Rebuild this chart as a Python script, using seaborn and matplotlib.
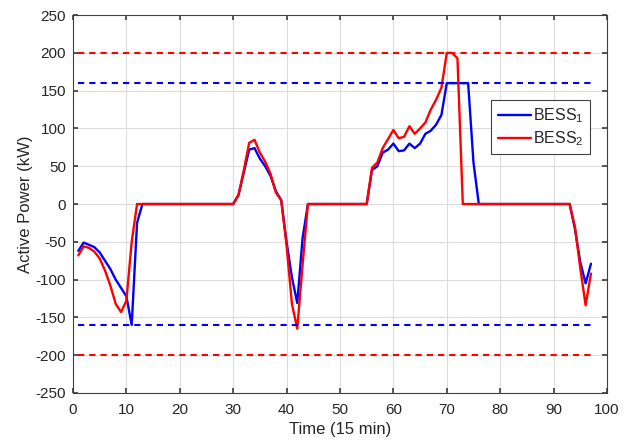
import matplotlib
matplotlib.use("Agg")
import matplotlib.pyplot as plt
import seaborn as sns
import pandas as pd
from matplotlib.lines import Line2D

time = list(range(1, 98))
bess1 = ([-62, -51, -54, -57, -64, -75, -86, -100, -111, -122, -160, -25]
         + [0] * 18
         + [12, 42, 72, 74, 60, 50, 37, 17, 5, -50, -97, -131, -45]
         + [0] * 12
         + [45, 50, 68, 72, 80, 70, 71, 80, 74, 80, 93, 97, 105, 118]
         + [160] * 5
         + [55]
         + [0] * 18
         + [-33, -77, -105, -79])
bess2 = ([-68, -56, -58, -63, -72, -88, -108, -132, -143, -128, -50]
         + [0] * 19
         + [12, 45, 81, 85, 68, 56, 40, 15, 5, -55, -132, -165, -80]
         + [0] * 12
         + [48, 55, 74, 86, 98, 87, 89, 103, 93, 100, 108, 125, 138, 154, 200, 200, 193]
         + [0] * 21
         + [-30, -85, -134, -92])
limit1 = 160
limit2 = 200
labels = ["BESS$_1$", "BESS$_2$"]
colors = ["#0000FF", "#FF0000"]

df = pd.DataFrame({
    "t": time * 2,
    "p": bess1 + bess2,
    "s": [labels[0]] * len(time) + [labels[1]] * len(time),
})

sns.set_theme(style="whitegrid")
plt.rcParams["font.family"] = ["Liberation Sans", "DejaVu Sans"]
plt.rcParams["mathtext.default"] = "regular"
plt.rcParams["axes.unicode_minus"] = False

fig = plt.figure(figsize=(6.29, 4.45), dpi=100)
ax = fig.add_axes([0.116, 0.117, 0.849, 0.849])

sns.lineplot(data=df, x="t", y="p", hue="s", palette=colors, linewidth=1.7,
             ax=ax, legend=False, estimator=None)

tmin, tmax = time[0], time[-1]
for lim, c in [(limit2, colors[1]), (limit1, colors[0])]:
    for sgn in (1, -1):
        ax.plot([tmin, tmax], [sgn * lim, sgn * lim], color=c, linestyle=(0, (3.0, 2.4)), linewidth=1.5)

ax.set_xlim(0, 100)
ax.set_ylim(-250, 250)
ax.set_xticks(range(0, 101, 10))
ax.set_yticks(range(-250, 251, 50))
ax.set_facecolor("white")
ax.grid(True, color="#dcdcdc", linewidth=0.8)
for sp in ax.spines.values():
    sp.set_visible(True)
    sp.set_color("#404040")
    sp.set_linewidth(0.8)
ax.tick_params(axis="both", direction="in", length=3.5, color="#404040",
               labelsize=11, labelcolor="#262626", top=True, right=True,
               bottom=True, left=True)
ax.tick_params(axis="x", pad=7)
ax.tick_params(axis="y", pad=5)
ax.set_xlabel("Time (15 min)", fontsize=12, color="#262626", labelpad=4)
ax.set_ylabel("Active Power (kW)", fontsize=12, color="#262626", labelpad=2)

handles = [Line2D([0], [0], color=colors[0], lw=1.7), Line2D([0], [0], color=colors[1], lw=1.7)]
leg = ax.legend(handles, labels, loc="upper right", bbox_to_anchor=(0.968, 0.775),
                borderaxespad=0, fontsize=11.5, frameon=True, fancybox=False, framealpha=1,
                edgecolor="#404040", handlelength=2.1, handletextpad=0.1,
                borderpad=0.4, labelspacing=0.25)
leg.get_frame().set_linewidth(0.8)

fig.savefig("out.png", dpi=100)
